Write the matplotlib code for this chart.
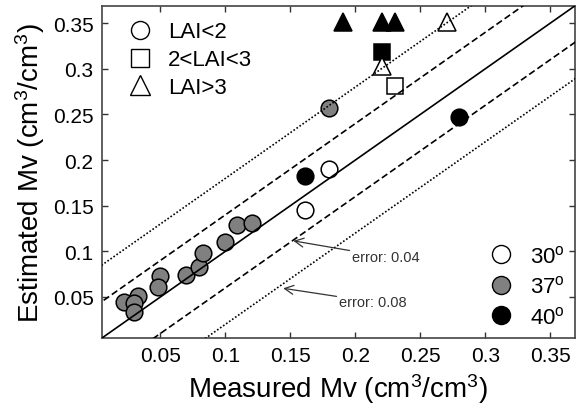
import matplotlib
matplotlib.use("Agg")
import matplotlib.pyplot as plt
from matplotlib.lines import Line2D
import numpy as np

plt.rcParams['font.family'] = ['Liberation Sans', 'DejaVu Sans']
plt.rcParams['mathtext.fontset'] = 'custom'
plt.rcParams['mathtext.rm'] = 'Liberation Sans'
plt.rcParams['mathtext.it'] = 'Liberation Sans:italic'

# --- data: (measured, estimated) ---
# LAI<2 circles
gray_circ_x = [0.022, 0.033, 0.0295, 0.030, 0.0495, 0.048, 0.070, 0.080, 0.0826, 0.100, 0.109, 0.1205, 0.180]
gray_circ_y = [0.044, 0.051, 0.043, 0.034, 0.073, 0.061, 0.074, 0.083, 0.098, 0.110, 0.129, 0.131, 0.257]
white_circ_x = [0.161, 0.180]
white_circ_y = [0.145, 0.190]
black_circ_x = [0.161, 0.280]
black_circ_y = [0.183, 0.2475]
# 2<LAI<3 squares
black_sq_x = [0.2205]
black_sq_y = [0.319]
white_sq_x = [0.2308]
white_sq_y = [0.281]
# LAI>3 triangles
black_tri_x = [0.1905, 0.2205, 0.2308]
black_tri_y = [0.351, 0.351, 0.351]
white_tri_x = [0.2705, 0.2205]
white_tri_y = [0.351, 0.3035]

error_offsets = [0.04, 0.08]
shape_labels = ['LAI<2', '2<LAI<3', 'LAI>3']
angle_labels = ['30$^{\\mathrm{o}}$', '37$^{\\mathrm{o}}$', '40$^{\\mathrm{o}}$']
ticks = [0.05, 0.1, 0.15, 0.2, 0.25, 0.3, 0.35]
tick_labels = ['0.05', '0.1', '0.15', '0.2', '0.25', '0.3', '0.35']

fig = plt.figure(figsize=(5.76, 4.06), dpi=100)
ax = fig.add_axes([0.177, 0.165, 0.821, 0.818])
lim = (0.005, 0.369)
ax.set_xlim(lim)
ax.set_ylim(lim)

GRAY = '#808080'
ms_c = 12
mew = 1.1
ax.plot(gray_circ_x, gray_circ_y, 'o', ms=ms_c, mfc=GRAY, mec='black', mew=mew, zorder=2)
ax.plot(white_circ_x, white_circ_y, 'o', ms=ms_c, mfc='white', mec='black', mew=mew, zorder=2)
ax.plot(black_circ_x, black_circ_y, 'o', ms=ms_c, mfc='black', mec='black', mew=mew, zorder=2)
ax.plot(black_sq_x, black_sq_y, 's', ms=11, mfc='black', mec='black', mew=mew, zorder=2)
ax.plot(white_sq_x, white_sq_y, 's', ms=11, mfc='white', mec='black', mew=mew, zorder=2)
ax.plot(black_tri_x, black_tri_y, '^', ms=13, mfc='black', mec='black', mew=mew, zorder=2)
ax.plot(white_tri_x, white_tri_y, '^', ms=13, mfc='white', mec='black', mew=mew, zorder=2)

xx = np.array([0.0, 0.4])
ax.plot(xx, xx, '-', color='black', lw=1.2, zorder=3)
for off, ls in zip(error_offsets, [(0, (4, 2)), (0, (1, 1.2))]):
    for s in (1, -1):
        ax.plot(xx, xx + s * off, linestyle=ls, color='black', lw=1.2, zorder=3)

# annotations
ax.annotate('error: 0.04', xy=(0.1523, 0.1115), xytext=(0.1977, 0.094),
            fontsize=10.5, color='#333333', ha='left', va='center',
            arrowprops=dict(arrowstyle='->', color='#333333', lw=0.9, mutation_scale=16, shrinkA=0, shrinkB=0))
ax.annotate('error: 0.08', xy=(0.1445, 0.0595), xytext=(0.1877, 0.0445),
            fontsize=10.5, color='#333333', ha='left', va='center',
            arrowprops=dict(arrowstyle='->', color='#333333', lw=0.9, mutation_scale=16, shrinkA=0, shrinkB=0))

# legends
h1 = [Line2D([], [], ls='', marker=m, ms=s, mfc='white', mec='black', mew=1.0)
      for m, s in zip(['o', 's', '^'], [13, 13, 14])]
leg1 = ax.legend(h1, shape_labels, loc='upper left', bbox_to_anchor=(0.0335, 0.98),
                 frameon=False, fontsize=16, handlelength=1.2, handletextpad=0.66,
                 labelspacing=0.31, borderaxespad=0, numpoints=1)
ax.add_artist(leg1)
h2 = [Line2D([], [], ls='', marker='o', ms=13, mfc=c, mec='black', mew=1.0)
      for c in ['white', GRAY, 'black']]
ax.legend(h2, angle_labels, loc='upper left', bbox_to_anchor=(0.797, 0.306),
          frameon=False, fontsize=16, handlelength=1.2, handletextpad=0.7,
          labelspacing=0.38, borderaxespad=0, numpoints=1)

ax.set_xticks(ticks)
ax.set_xticklabels(tick_labels)
ax.set_yticks(ticks)
ax.set_yticklabels(tick_labels)
ax.tick_params(direction='in', length=4, width=1, top=True, right=True,
               labelsize=15, pad=6, color='#333333')
for sp in ax.spines.values():
    sp.set_color('#444444')
    sp.set_linewidth(1.2)

ax.set_xlabel('Measured Mv (cm$^3$/cm$^3$)', fontsize=20, labelpad=4)
ax.set_ylabel('Estimated Mv (cm$^3$/cm$^3$)', fontsize=20, labelpad=4)

fig.savefig('out.png', dpi=100)
